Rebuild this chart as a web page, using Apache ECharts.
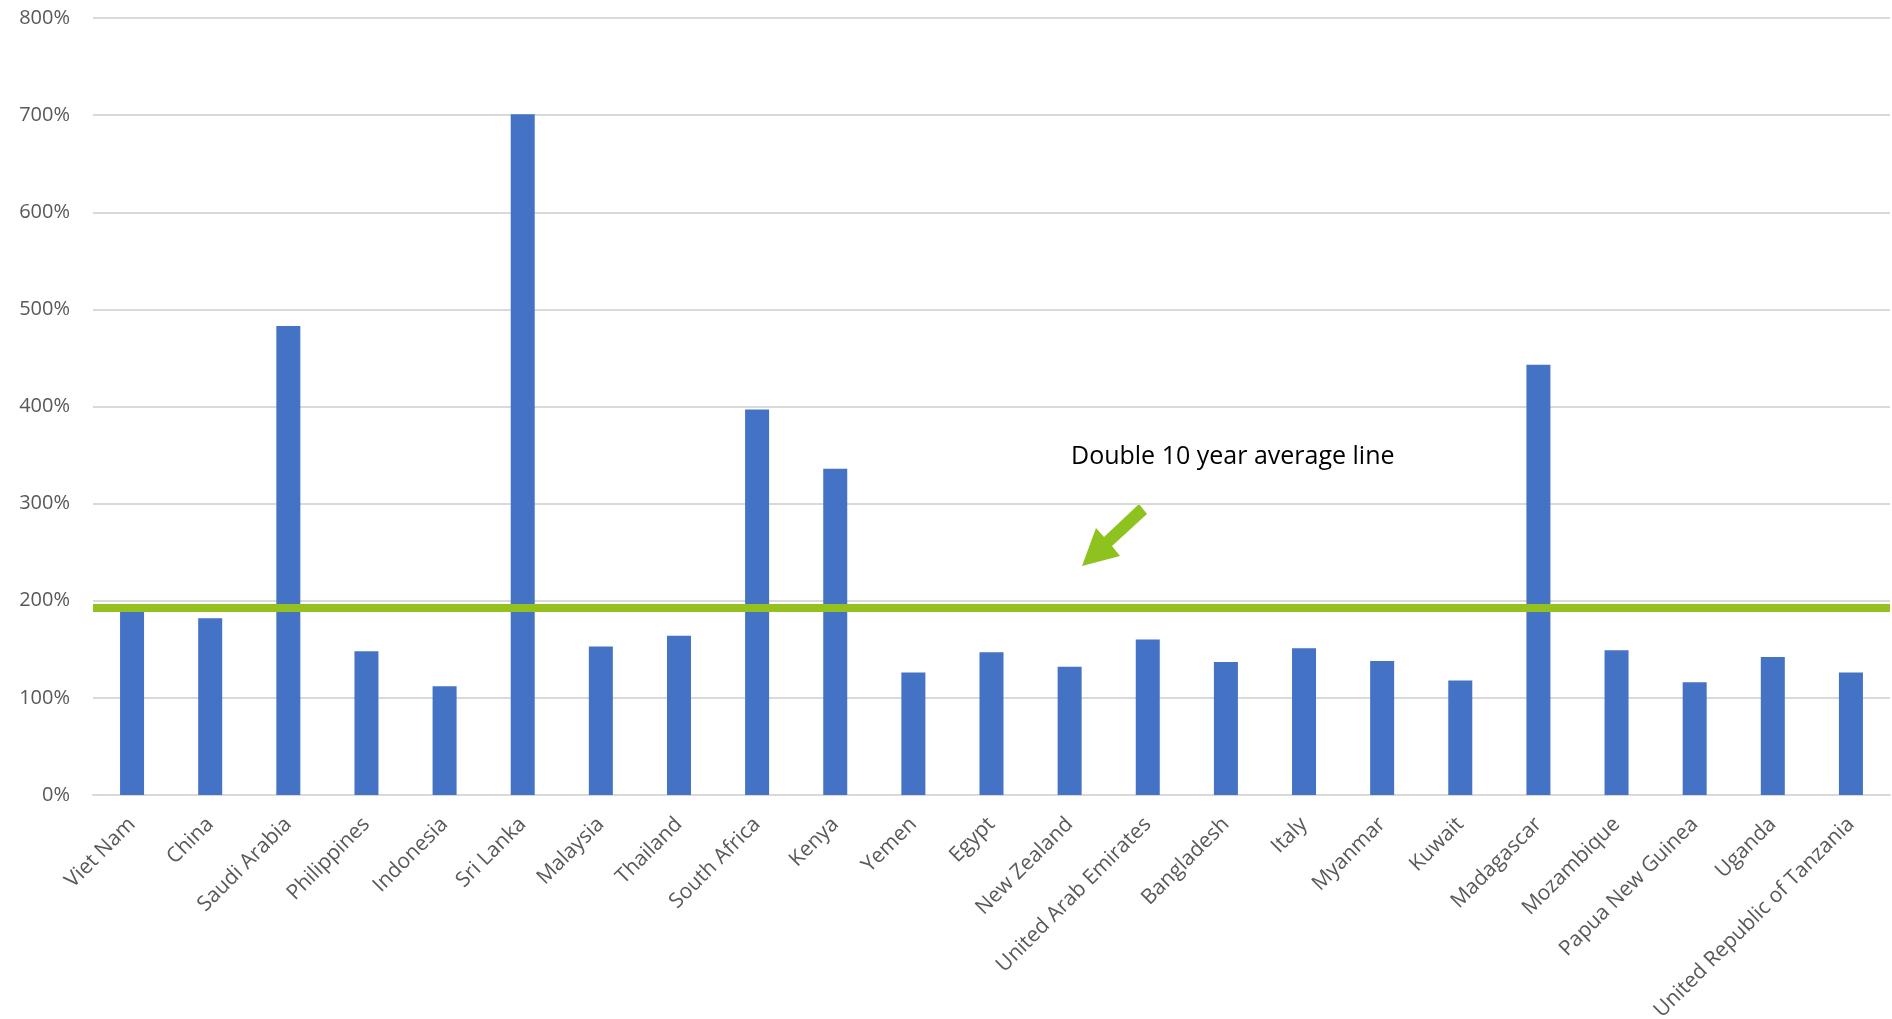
<!DOCTYPE html>
<html>
<head>
<meta charset="utf-8">
<script src="https://cdn.jsdelivr.net/npm/echarts@6/dist/echarts.min.js"></script>
<style>
html,body{margin:0;padding:0;background:#fff;}
#chart{width:1892px;height:1019px;}
</style>
</head>
<body>
<div id="chart"></div>
<script>
const categories = ["Viet Nam","China","Saudi Arabia","Philippines","Indonesia","Sri Lanka","Malaysia","Thailand","South Africa","Kenya","Yemen","Egypt","New Zealand","United Arab Emirates","Bangladesh","Italy","Myanmar","Kuwait","Madagascar","Mozambique","Papua New Guinea","Uganda","United Republic of Tanzania"];
const values = [189,182,483,148,112,701,153,164,397,336,126,147,132,160,137,151,138,118,443,149,116,142,126];
const averageLine = 193;
const annotationText = "Double 10 year average line";

const chart = echarts.init(document.getElementById('chart'));
const FONT = '"Open Sans", sans-serif';
chart.setOption({
  animation: false,
  grid: {left: 93, right: 2, top: 18, bottom: 224, containLabel: false, outerBoundsMode: 'none'},
  xAxis: {
    type: 'category',
    data: categories,
    axisTick: {show: false},
    axisLine: {lineStyle: {color: '#d9d9d9', width: 2}},
    axisLabel: {rotate: 45, color: '#595959', fontSize: 21, fontFamily: FONT, margin: 26, interval: 0}
  },
  yAxis: {
    type: 'value',
    min: 0, max: 800, interval: 100,
    axisLabel: {formatter: '{value}%', color: '#595959', fontSize: 20, fontFamily: FONT, margin: 23},
    splitLine: {lineStyle: {color: '#d9d9d9', width: 2}},
    axisLine: {show: false},
    axisTick: {show: false}
  },
  series: [{
    type: 'bar',
    data: values,
    barWidth: 24,
    itemStyle: {color: '#4472C4'},
    markLine: {
      silent: true,
      symbol: 'none',
      label: {show: false},
      lineStyle: {color: '#95C11F', width: 8, type: 'solid'},
      data: [{yAxis: averageLine}]
    }
  }],
  graphic: [
    {type: 'text', left: 1071, top: 444, style: {text: annotationText, font: '25px ' + FONT, fill: '#000'}},
    {type: 'polygon', shape: {points: [[1139,504],[1147,514],[1112,546],[1120,556],[1082,566],[1096,528],[1104,537]]}, style: {fill: '#8DC21F'}}
  ]
});
</script>
</body>
</html>
